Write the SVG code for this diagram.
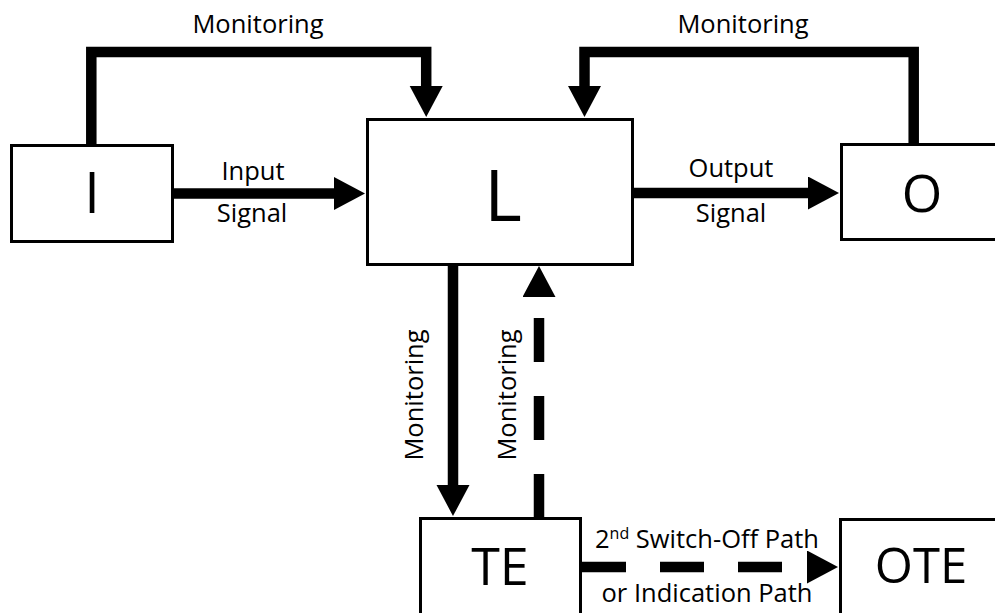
<svg xmlns="http://www.w3.org/2000/svg" width="995" height="613" viewBox="0 0 995 613">
<defs>
<style>
.box{fill:#fff;stroke:#000;stroke-width:3}
.big{font-family:"Open Sans","Liberation Sans",sans-serif;fill:#000;text-anchor:middle}
.lbl{font-family:"Open Sans","Liberation Sans",sans-serif;font-size:25.5px;fill:#000;text-anchor:middle}
.wire{fill:none;stroke:#000;stroke-width:10.5;stroke-linejoin:miter;stroke-linecap:butt}
.dash{stroke-dasharray:44 34}
</style>
<marker id="ah" markerUnits="userSpaceOnUse" markerWidth="32" markerHeight="34" refX="2" refY="16.5" orient="auto">
<path d="M0,0 L31,16.5 L0,33 Z" fill="#000"/>
</marker>
</defs>
<rect width="995" height="613" fill="#fff"/>
<g id="connectors">
<path class="wire" d="M91.3,145 V52 H426.2 V88" marker-end="url(#ah)"/>
<path class="wire" d="M913.7,144 V52 H584.5 V88" marker-end="url(#ah)"/>
<path class="wire" d="M174,193.5 H336" marker-end="url(#ah)"/>
<path class="wire" d="M634,193 H810" marker-end="url(#ah)"/>
<path class="wire" d="M453,266 V487" marker-end="url(#ah)"/>
<path class="wire dash" d="M539,518 V295" marker-end="url(#ah)"/>
<path class="wire dash" d="M582,567 H809" marker-end="url(#ah)"/>
</g>
<g id="labels">
<text class="lbl" x="258" y="33">Monitoring</text>
<text class="lbl" x="743" y="33">Monitoring</text>
<text class="lbl" x="253" y="180">Input</text>
<text class="lbl" x="252" y="222">Signal</text>
<text class="lbl" x="731" y="177">Output</text>
<text class="lbl" x="731" y="222">Signal</text>
<text class="lbl" transform="translate(423,395) rotate(-90)">Monitoring</text>
<text class="lbl" transform="translate(516,395) rotate(-90)">Monitoring</text>
<text class="lbl" x="707" y="548">2<tspan font-size="16" dy="-9">nd</tspan><tspan dy="9"> Switch-Off Path</tspan></text>
<text class="lbl" x="707" y="602">or Indication Path</text>
</g>
<g id="node-I">
<rect class="box" x="11.5" y="145.5" width="161" height="96"/>
<text class="big" x="92" y="213" font-size="56">I</text>
</g>
<g id="node-L">
<rect class="box" x="367.5" y="119.5" width="265" height="145"/>
<text class="big" x="503" y="221" font-size="72">L</text>
</g>
<g id="node-O">
<rect class="box" x="841.5" y="144.5" width="200" height="95"/>
<text class="big" x="922" y="212" font-size="52">O</text>
</g>
<g id="node-TE">
<rect class="box" x="420.5" y="518.5" width="160" height="120"/>
<text class="big" x="500" y="585" font-size="52">TE</text>
</g>
<g id="node-OTE">
<rect class="box" x="840.5" y="519.5" width="200" height="120"/>
<text class="big" x="921" y="583" font-size="49">OTE</text>
</g>
</svg>
